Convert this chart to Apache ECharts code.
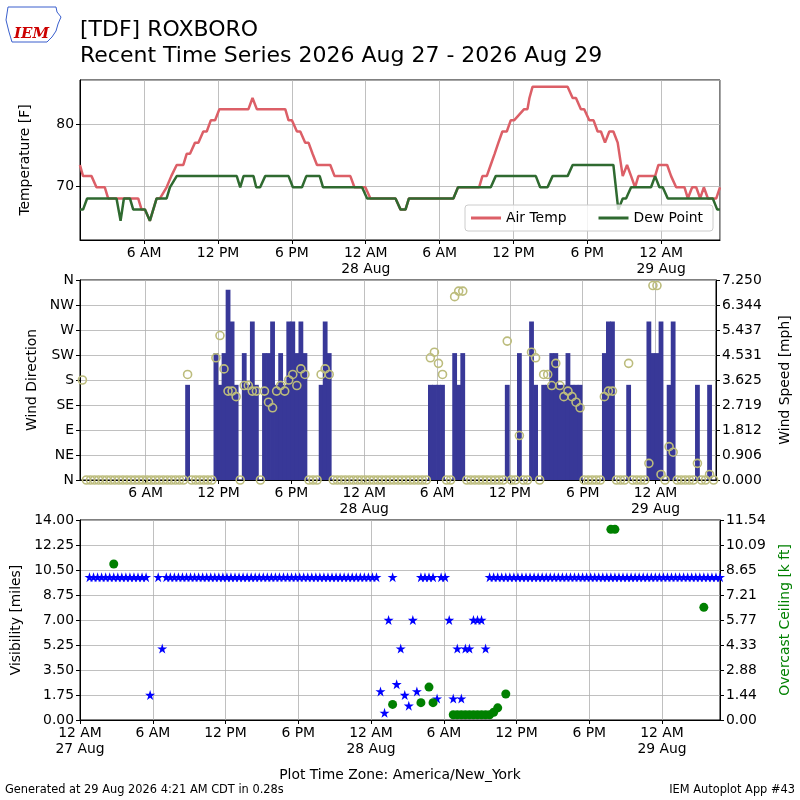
<!DOCTYPE html>
<html><head><meta charset="utf-8">
<script src="https://cdn.jsdelivr.net/npm/echarts@6/dist/echarts.min.js"></script>
<style>html,body{margin:0;padding:0;background:#fff}#c{width:800px;height:800px}</style>
</head><body><div id="c"></div>
<script>
// ---------------- DATA ----------------
// Temperature / dew point (hours since 27 Aug 00:00 local, deg F)
const tempHours = [0.78,1.03,1.72,2.12,2.80,3.07,5.51,5.79,6.06,6.46,7.01,7.28,7.82,8.20,8.64,9.18,9.45,9.72,10.13,10.40,10.80,11.08,11.41,11.76,12.11,14.47,14.80,15.15,17.46,17.73,18.00,18.41,18.68,19.08,19.35,19.68,20.04,21.12,21.47,22.75,23.08,23.97,24.38,26.42,26.83,27.23,27.51,31.12,31.50,33.21,33.48,33.83,34.15,34.47,34.78,35.10,35.46,35.78,36.05,36.87,37.14,37.30,37.55,40.40,40.81,41.08,41.48,41.75,42.16,42.51,42.84,43.11,43.44,43.79,44.12,44.47,44.88,45.23,45.56,45.88,46.15,47.51,47.78,48.49,48.81,49.22,49.90,50.17,50.52,50.85,51.17,51.47,51.80,52.48,52.78];
const tempValues = [73.4,71.6,71.6,69.8,69.8,68,68,66.2,66.2,64.4,68,68,69.8,71.6,73.4,73.4,75.2,75.2,77,77,78.8,78.8,80.6,80.6,82.4,82.4,84.2,82.4,82.4,80.6,80.6,78.8,78.8,77,77,75.2,73.4,73.4,71.6,71.6,69.8,69.8,68,68,66.2,66.2,68,68,69.8,69.8,71.6,71.6,73.4,75.2,77,78.8,78.8,80.6,80.6,82.4,82.4,84.2,86,86,84.2,84.2,82.4,82.4,80.6,80.6,78.8,78.8,77,78.8,78.8,77,71.6,73.4,71.6,69.8,71.6,71.6,73.4,73.4,71.6,69.8,69.8,68,69.8,69.8,68,69.8,68,68,69.8];
const dewHours = [0.78,1.03,1.36,3.75,4.08,4.35,4.84,5.11,6.06,6.46,7.01,7.82,8.09,8.64,13.52,13.80,14.07,14.88,15.10,15.42,15.83,17.73,18.08,18.82,19.17,20.26,20.53,23.70,24.11,26.42,26.83,27.23,27.51,31.12,31.50,34.16,34.56,37.82,38.17,38.77,39.18,40.40,40.81,44.12,44.52,44.88,45.15,45.56,47.18,47.51,47.86,48.13,48.54,52.20,52.56,52.78];
const dewValues = [66.2,66.2,68,68,64.4,68,68,66.2,66.2,64.4,68,68,69.8,71.6,71.6,69.8,71.6,71.6,69.8,69.8,71.6,71.6,69.8,69.8,71.6,71.6,69.8,69.8,68,68,66.2,66.2,68,68,69.8,69.8,71.6,71.6,69.8,69.8,71.6,71.6,73.4,73.4,66.2,68,68,69.8,69.8,71.6,69.8,69.8,68,68,66.2,66.2];

// Observations every 20 minutes starting 27 Aug 00:47 local
const obsStart = {year: 2026, month: 8, day: 27, hour: 0, minute: 47};
const obsStepMinutes = 20;
const windDir = [
 180,0,0,0,0,0,0,0,0,0,
 0,0,0,0,0,0,0,0,0,0,
 0,0,0,0,0,0,190,0,0,0,
 0,0,0,220,260,200,160,160,150,0,
 170,170,160,160,0,160,140,130,160,170,
 160,180,190,170,200,190,0,0,0,190,
 200,190,0,0,0,0,0,0,0,0,
 0,0,0,0,0,0,0,0,0,0,
 0,0,0,0,0,0,220,230,210,190,
 0,0,330,340,340,0,0,0,0,0,
 0,0,0,0,0,250,0,0,80,0,
 0,230,220,0,190,190,170,210,170,150,
 160,150,140,130,0,0,0,0,0,150,
 160,160,0,0,0,210,0,0,0,0,
 30,350,350,10,0,60,50,0,0,0,
 0,0,30,0,0,10,0];
const windSpeed = [
 0,0,0,0,0,0,0,0,0,0,
 0,0,0,0,0,0,0,0,0,0,
 0,0,0,0,0,0,3.45,0,0,0,
 0,0,0,4.6,3.45,4.6,6.9,5.75,3.45,0,
 4.6,3.45,5.75,3.45,0,4.6,4.6,5.75,3.45,4.6,
 3.45,5.75,5.75,4.6,5.75,4.6,0,0,0,3.45,
 5.75,4.6,0,0,0,0,0,0,0,0,
 0,0,0,0,0,0,0,0,0,0,
 0,0,0,0,0,0,3.45,3.45,3.45,3.45,
 0,0,4.6,3.45,4.6,0,0,0,0,0,
 0,0,0,0,0,3.45,0,0,4.6,0,
 0,5.75,3.45,0,3.45,3.45,4.6,4.6,3.45,3.45,
 4.6,3.45,3.45,3.45,0,0,0,0,0,4.6,
 5.75,5.75,0,0,0,3.45,0,0,0,0,
 5.75,4.6,4.6,5.75,0,3.45,5.75,0,0,0,
 0,0,3.45,0,0,3.45,0];
const visibility = [
 10,10,10,10,10,10,10,10,10,10,
 10,10,10,10,10,1.75,null,10,5,10,
 10,10,10,10,10,10,10,10,10,10,
 10,10,10,10,10,10,10,10,10,10,
 10,10,10,10,10,10,10,10,10,10,
 10,10,10,10,10,10,10,10,10,10,
 10,10,10,10,10,10,10,10,10,10,
 10,10,2,0.5,7,10,2.5,5,1.75,1,
 7,2,10,10,10,10,1.5,10,10,7,
 1.5,5,1.5,5,5,7,7,7,5,10,
 10,10,10,10,10,10,10,10,10,10,
 10,10,10,10,10,10,10,10,10,10,
 10,10,10,10,10,10,10,10,10,10,
 10,10,10,10,10,10,10,10,10,10,
 10,10,10,10,10,10,10,10,10,10,
 10,10,10,10,10,10,10];
// Overcast ceiling (k ft) at observation indices
const ceilingObs    = [6, 75, 82, 84, 85, 90, 91, 92, 93, 94, 95, 96, 97, 98, 99, 100, 101, 103, 129, 130, 152];
const ceilingValues = [9.0,0.9,1.0,1.9,1.0,0.3,0.3,0.3,0.3,0.3,0.3,0.3,0.3,0.3,0.3,0.45,0.7,1.5,11.0,11.0,6.5];

// Tick labels
const dirTickLabels   = ['N','NE','E','SE','S','SW','W','NW','N'];
const speedTickLabels = ['0.000','0.906','1.812','2.719','3.625','4.531','5.437','6.344','7.250'];
const visTickLabels   = ['0.00','1.75','3.50','5.25','7.00','8.75','10.50','12.25','14.00'];
const ceilTickLabels  = ['0.00','1.44','2.88','4.33','5.77','7.21','8.65','10.09','11.54'];
const monthNames = ['Jan','Feb','Mar','Apr','May','Jun','Jul','Aug','Sep','Oct','Nov','Dec'];

// ---------------- CHART ----------------
const FONT = 'DejaVu Sans';
const FS = 13.9;
const H = 3600000;
const base = new Date(2026, 7, 27, 0, 0, 0).getTime();
const obsBase = new Date(obsStart.year, obsStart.month - 1, obsStart.day, obsStart.hour, obsStart.minute, 0).getTime();
const obsTime = k => obsBase + k * obsStepMinutes * 60000;
const nObs = windDir.length;
const xMinTop = obsTime(0), xMax = obsTime(nObs - 1);

function fmtTime(v) {
  const d = new Date(v);
  if (d.getMinutes() !== 0 || d.getSeconds() !== 0) return '';
  const h = d.getHours();
  if (h % 6) return '';
  let s = h === 0 ? '12 AM' : h < 12 ? h + ' AM' : h === 12 ? '12 PM' : (h - 12) + ' PM';
  if (h === 0) s += '\n' + d.getDate() + ' ' + monthNames[d.getMonth()];
  return s;
}
const gridLine = {show: true, lineStyle: {color: '#b0b0b0', width: 0.8}};
function xAxisFor(gi, min) {
  return {
    type: 'time', gridIndex: gi, min: min, max: xMax,
    minInterval: 6.5 * H, maxInterval: 6.5 * H,
    axisLine: {show: true, lineStyle: {color: '#000', width: 1}},
    axisTick: {show: true, length: 4, lineStyle: {color: '#000'}},
    axisLabel: {formatter: fmtTime, color: '#000', fontFamily: FONT, fontSize: FS, lineHeight: 16, margin: 5, hideOverlap: false},
    splitLine: gridLine
  };
}
function yAxisBase(gi, extra) {
  return Object.assign({
    type: 'value', gridIndex: gi,
    axisLine: {show: true, lineStyle: {color: '#000', width: 1}},
    axisTick: {show: true, length: 4, lineStyle: {color: '#000'}},
    axisLabel: {color: '#000', fontFamily: FONT, fontSize: FS, margin: 6},
    nameLocation: 'middle', nameRotate: 90,
    nameTextStyle: {color: '#000', fontFamily: FONT, fontSize: FS}
  }, extra);
}
const starPath = 'path://M0,-1L0.2245,-0.309L0.951,-0.309L0.363,0.118L0.588,0.809L0,0.382L-0.588,0.809L-0.363,0.118L-0.951,-0.309L-0.2245,-0.309Z';

const chart = echarts.init(document.getElementById('c'), null, {renderer: 'canvas'});
const option = {
  animation: false,
  backgroundColor: '#fff',
  textStyle: {fontFamily: FONT},
  grid: [
    {left: 80, top: 80, width: 640, height: 160, show: true, borderColor: '#000', borderWidth: 1},
    {left: 80, top: 280, width: 640, height: 200, show: true, borderColor: '#000', borderWidth: 1},
    {left: 80, top: 520, width: 640, height: 200, show: true, borderColor: '#000', borderWidth: 1}
  ],
  xAxis: [xAxisFor(0, xMinTop), xAxisFor(1, xMinTop), xAxisFor(2, base)],
  yAxis: [
    yAxisBase(0, {min: 61.3, max: 87.1, splitNumber: 2, name: 'Temperature [F]', nameGap: 48,
      axisLabel: {color: '#000', fontFamily: FONT, fontSize: FS, margin: 6, showMinLabel: false, showMaxLabel: false},
      splitLine: gridLine}),
    yAxisBase(1, {min: 0, max: 360, interval: 45, name: 'Wind Direction', nameGap: 41,
      axisLabel: {color: '#000', fontFamily: FONT, fontSize: FS, margin: 6, formatter: v => dirTickLabels[Math.round(v / 45)]},
      splitLine: gridLine}),
    yAxisBase(1, {min: 0, max: 7.25, interval: 7.25 / 8, position: 'right', name: 'Wind Speed [mph]', nameGap: 62,
      axisLabel: {color: '#000', fontFamily: FONT, fontSize: FS, margin: 6, formatter: v => speedTickLabels[Math.round(v / (7.25 / 8))]},
      splitLine: {show: false}}),
    yAxisBase(2, {min: 0, max: 14, interval: 1.75, name: 'Visibility [miles]', nameGap: 56,
      axisLabel: {color: '#000', fontFamily: FONT, fontSize: FS, margin: 6, formatter: v => visTickLabels[Math.round(v / 1.75)]},
      splitLine: gridLine}),
    yAxisBase(2, {min: 0, max: 11.54, interval: 11.54 / 8, position: 'right', name: 'Overcast Ceiling [k ft]', nameGap: 58,
      nameTextStyle: {color: '#008000', fontFamily: FONT, fontSize: FS},
      axisLabel: {color: '#000', fontFamily: FONT, fontSize: FS, margin: 6, formatter: v => ceilTickLabels[Math.round(v / (11.54 / 8))]},
      splitLine: {show: false}})
  ],
  legend: {
    data: ['Air Temp', 'Dew Point'], left: 465, top: 205, orient: 'horizontal',
    icon: 'rect', itemWidth: 30, itemHeight: 3, itemGap: 32,
    padding: [6, 10, 6, 6], borderColor: '#cccccc', borderWidth: 1, borderRadius: 3,
    backgroundColor: 'rgba(255,255,255,0.8)',
    textStyle: {color: '#000', fontFamily: FONT, fontSize: FS}
  },
  series: [
    {name: 'Air Temp', type: 'line', xAxisIndex: 0, yAxisIndex: 0, showSymbol: false,
     color: '#dc5f67', lineStyle: {color: '#dc5f67', width: 2.5},
     data: tempHours.map((h, i) => [base + h * H, tempValues[i]])},
    {name: 'Dew Point', type: 'line', xAxisIndex: 0, yAxisIndex: 0, showSymbol: false,
     color: '#2f6a30', lineStyle: {color: '#2f6a30', width: 2.5},
     data: dewHours.map((h, i) => [base + h * H, dewValues[i]])},
    {name: 'Wind Speed', type: 'bar', xAxisIndex: 1, yAxisIndex: 2, barWidth: 4.8,
     itemStyle: {color: '#383898', opacity: 1},
     data: windSpeed.map((v, k) => [obsTime(k), v])},
    {name: 'Wind Direction', type: 'scatter', xAxisIndex: 1, yAxisIndex: 1, symbol: 'circle', symbolSize: 8,
     itemStyle: {color: 'rgba(0,0,0,0)', borderColor: '#bcbc7c', borderWidth: 1.6, opacity: 1},
     data: windDir.map((v, k) => [obsTime(k), v])},
    {name: 'Visibility', type: 'scatter', xAxisIndex: 2, yAxisIndex: 3, symbol: starPath, symbolSize: 10,
     itemStyle: {color: '#0000ff', opacity: 1},
     data: visibility.map((v, k) => v == null ? null : [obsTime(k), v]).filter(p => p)},
    {name: 'Ceiling', type: 'scatter', xAxisIndex: 2, yAxisIndex: 4, symbol: 'circle', symbolSize: 9,
     itemStyle: {color: '#008000', opacity: 1},
     data: ceilingObs.map((k, i) => [obsTime(k), ceilingValues[i]])}
  ],
  graphic: [
    {type: 'polygon', shape: {points: [[8,7],[56,7],[57,12],[61,17],[58,24],[56,31],[52,37],[47,42],[12,42],[9,32],[6,20]]},
     style: {fill: 'none', stroke: '#3a5fcd', lineWidth: 1}},
    {type: 'text', left: 14, top: 27, style: {text: 'IEM', fill: '#cc0000', font: 'italic bold 15px "DejaVu Serif"'}},
    {type: 'text', x: 80, y: 30, style: {text: '[TDF] ROXBORO', fill: '#000', font: '22px "DejaVu Sans"', textVerticalAlign: 'middle'}},
    {type: 'text', x: 80, y: 56, style: {text: 'Recent Time Series 2026 Aug 27 - 2026 Aug 29', fill: '#000', font: '22px "DejaVu Sans"', textVerticalAlign: 'middle'}},
    {type: 'text', x: 400, y: 775, style: {text: 'Plot Time Zone: America/New_York', fill: '#000', font: '13.9px "DejaVu Sans"', textAlign: 'center', textVerticalAlign: 'middle'}},
    {type: 'text', x: 5, y: 790, style: {text: 'Generated at 29 Aug 2026 4:21 AM CDT in 0.28s', fill: '#000', font: '11.4px "DejaVu Sans"', textAlign: 'left', textVerticalAlign: 'middle'}},
    {type: 'text', x: 795, y: 790, style: {text: 'IEM Autoplot App #43', fill: '#000', font: '11.4px "DejaVu Sans"', textAlign: 'right', textVerticalAlign: 'middle'}}
  ]
};
chart.setOption(option);
</script></body></html>
